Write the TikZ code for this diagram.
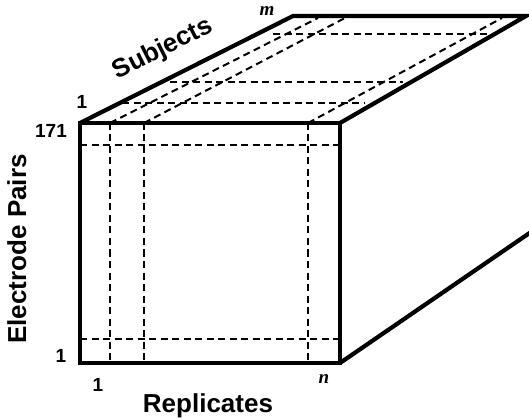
\documentclass[tikz,border=0pt]{standalone}
\usepackage{fontspec}
\setmainfont{Liberation Sans}
\newfontfamily\labelserif{Liberation Serif}
\begin{document}
\begin{tikzpicture}[x=1pt,y=-1pt,
  solidedge/.style={line width=4.2pt,line join=miter,line cap=butt},
  dashline/.style={line width=2pt,dash pattern=on 7pt off 4.5pt},
  axislabel/.style={font=\fontsize{26}{30}\selectfont\bfseries,inner sep=0pt},
  idxlabel/.style={font=\fontsize{19}{21}\selectfont\bfseries,inner sep=0pt,anchor=base},
  varlabel/.style={font=\fontsize{19}{21}\selectfont\labelserif\bfseries\itshape,inner sep=0pt,anchor=base}]
\useasboundingbox (0,0) rectangle (529,419);
% corners
\coordinate (ftl) at (80,123);
\coordinate (ftr) at (340,123);
\coordinate (fbl) at (80,363);
\coordinate (fbr) at (340,363);
\coordinate (btl) at (293,16);
\coordinate (btr) at (526,16);
\coordinate (bbr) at (531,232);
% front face dashed lines
\draw[dashline] (110,123) -- (110,363);
\draw[dashline] (144,123) -- (144,363);
\draw[dashline] (308,123) -- (308,363);
\draw[dashline] (80,145) -- (340,145);
\draw[dashline] (80,339) -- (340,339);
% top face dashed lines
\draw[dashline] (110,123) -- (318,18);
\draw[dashline] (144,123) -- (345,18);
\draw[dashline] (308,123) -- (502,18);
\draw[dashline] (273,34) -- (492,34);
\draw[dashline] (170,82) -- (403,82);
\draw[dashline] (122,103) -- (365,103);
% solid edges
\draw[solidedge] (ftl) rectangle (fbr);
\draw[solidedge] (ftl) -- (btl) -- (btr) -- (ftr);
\draw[solidedge] (fbr) -- (bbr);
% labels
\node[axislabel,rotate=26.7] (subj) at (163,49) {Subjects};
\node[axislabel,anchor=base] (repl) at (208,412) {Replicates};
\node[axislabel,anchor=base,rotate=90] (elec) at (26,249) {Electrode Pairs};
\node[idxlabel] (s1) at (82,109) {1};
\node[idxlabel] (e171) at (51,138) {171};
\node[idxlabel] (e1) at (61,362) {1};
\node[idxlabel] (r1) at (98,391) {1};
\node[varlabel] (sm) at (267,16) {m};
\node[varlabel] (rn) at (324,383) {n};
\end{tikzpicture}
\end{document}
